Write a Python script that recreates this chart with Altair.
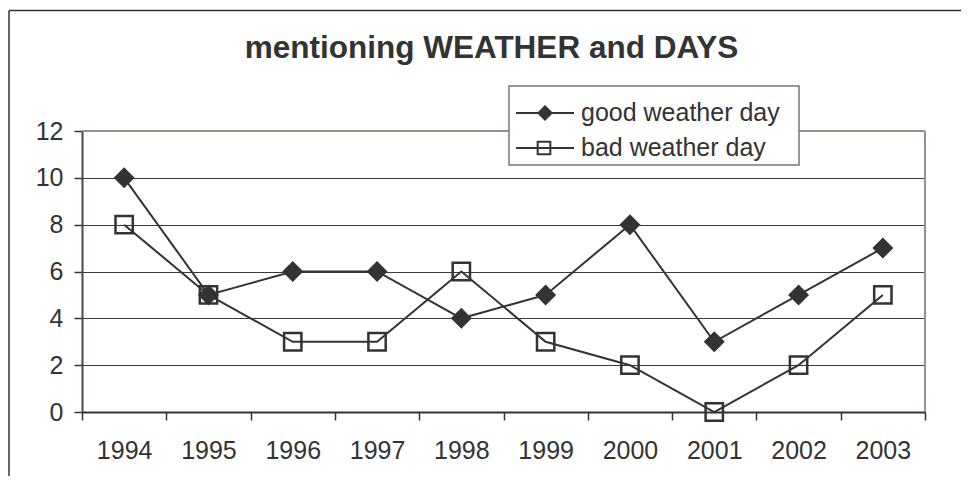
import altair as alt
import pandas as pd

years = ["1994", "1995", "1996", "1997", "1998", "1999", "2000", "2001", "2002", "2003"]
good = [10, 5, 6, 6, 4, 5, 8, 3, 5, 7]
bad = [8, 5, 3, 3, 6, 3, 2, 0, 2, 5]
series_names = ["good weather day", "bad weather day"]
y_ticks = [0, 2, 4, 6, 8, 10, 12]
title_text = "mentioning WEATHER and DAYS"

df = pd.DataFrame({
    "year": years * 2,
    "series": [series_names[0]] * len(years) + [series_names[1]] * len(years),
    "value": good + bad,
})
leg_df = pd.DataFrame({"label": series_names, "i": [0, 1]})
one = pd.DataFrame({"a": [0]})

W, H = 843, 281
FONT = "Liberation Sans"
INK = "#333333"
FRAME = "#9a8f8a"

x_enc = alt.X(
    "year:N", sort=years,
    scale=alt.Scale(type="band", paddingInner=0, paddingOuter=0),
    axis=alt.Axis(title=None, labelAngle=0, tickBand="extent", labelFontSize=25,
                  labelFont=FONT, labelColor=INK, labelPadding=18, tickSize=8,
                  tickColor=INK, tickWidth=1.5, domainColor=INK, domainWidth=2,
                  grid=False),
)
y_enc = alt.Y(
    "value:Q",
    scale=alt.Scale(domain=[0, 12], nice=False, zero=True),
    axis=alt.Axis(title=None, values=y_ticks, labelFontSize=25, labelFont=FONT,
                  labelColor=INK, labelPadding=11, tickSize=8, tickColor=INK,
                  tickWidth=1.5, domainColor="#4d4545", domainWidth=2,
                  grid=True, gridColor="#3a3a3a", gridWidth=1),
)

base = alt.Chart(df)

lines = base.mark_line(color=INK, strokeWidth=2).encode(x=x_enc, y=y_enc, detail="series:N")
good_pts = base.transform_filter(alt.datum.series == series_names[0]).mark_point(
    shape="diamond", filled=True, size=440, color=INK, opacity=1
).encode(x=x_enc, y=y_enc)
bad_pts = base.transform_filter(alt.datum.series == series_names[1]).mark_point(
    shape="square", filled=False, size=300, color=INK, strokeWidth=2.5, opacity=1
).encode(x=x_enc, y=y_enc)

top_border = alt.Chart(one).mark_rule(color=FRAME, strokeWidth=2).encode(
    x=alt.value(0), x2=alt.value(W), y=alt.value(0))
right_border = alt.Chart(one).mark_rule(color=FRAME, strokeWidth=2).encode(
    x=alt.value(W), y=alt.value(0), y2=alt.value(H))

outer_top = alt.Chart(one).mark_rule(color=INK, strokeWidth=1.5).encode(
    x=alt.value(-73), x2=alt.value(900), y=alt.value(-120.5))
outer_left = alt.Chart(one).mark_rule(color=INK, strokeWidth=1.5).encode(
    x=alt.value(-73), y=alt.value(-120.5), y2=alt.value(400))

title = alt.Chart(one).mark_text(
    fontSize=31.5, fontWeight="bold", font=FONT, color=INK, align="center", baseline="alphabetic"
).encode(x=alt.value(409.5), y=alt.value(-73), text=alt.value(title_text))

leg_box = alt.Chart(one).mark_rect(fill="white", stroke="#777777", strokeWidth=1.5).encode(
    x=alt.value(427), x2=alt.value(717), y=alt.value(-45), y2=alt.value(34))

leg = alt.Chart(leg_df).transform_calculate(ly="-18 + 35 * datum.i")
ly = alt.Y("ly:Q", scale=None, axis=None)
leg_lines = leg.mark_rule(color=INK, strokeWidth=2).encode(
    x=alt.value(434), x2=alt.value(492), y=ly)
leg_diamond = leg.transform_filter(alt.datum.i == 0).mark_point(
    shape="diamond", filled=True, size=256, color=INK, opacity=1).encode(x=alt.value(463), y=ly)
leg_square = leg.transform_filter(alt.datum.i == 1).mark_point(
    shape="square", filled=False, size=160, color=INK, strokeWidth=2, opacity=1).encode(x=alt.value(462), y=ly)
leg_text = leg.mark_text(align="left", baseline="middle", fontSize=25, font=FONT, color=INK).encode(
    x=alt.value(499), y=ly, text="label:N")

chart = alt.layer(
    outer_top, outer_left, title, top_border, right_border, lines, good_pts, bad_pts,
    leg_box, leg_lines, leg_diamond, leg_square, leg_text,
).properties(
    width=W, height=H,
    autosize=alt.AutoSizeParams(type="none"),
    padding={"left": 74, "top": 123, "right": 36, "bottom": 64},
).configure_view(stroke=None).configure(background="white")

chart.save("out.html", embed_options={"renderer": "svg", "actions": False})
